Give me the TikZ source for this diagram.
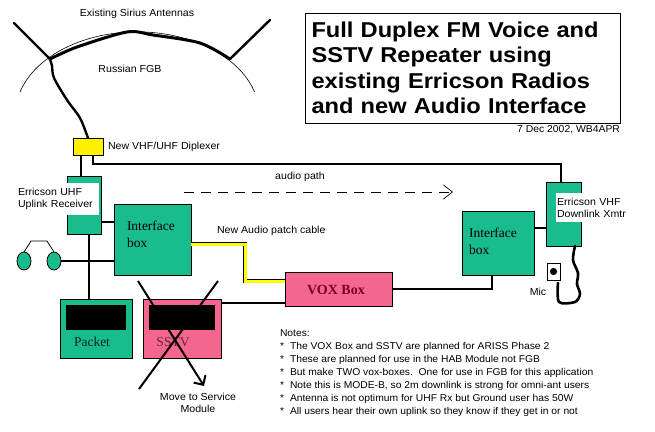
\documentclass[tikz,border=0pt]{standalone}
\usepackage{fontspec}
\setmainfont{Liberation Sans}
\newfontfamily\tms{Liberation Serif}
\newfontfamily\titlefont[FakeStretch=1.10]{Liberation Sans}
\newfontfamily\lblfont[FakeStretch=1.04]{Liberation Sans}
\usetikzlibrary{shapes.geometric,arrows.meta,calc}
\definecolor{boxgreen}{HTML}{19BC8C}
\definecolor{boxpink}{HTML}{F5668F}
\definecolor{voxred}{HTML}{7A0020}
\definecolor{cableyellow}{HTML}{FFFF00}
\begin{document}
\begin{tikzpicture}[x=1pt,y=-1pt,
  every node/.style={inner sep=0pt,outer sep=0pt},
  box/.style={draw=black,line width=0.8pt,inner sep=0pt},
  gbox/.style={box,fill=boxgreen},
  pbox/.style={box,fill=boxpink},
  conn/.style={line width=1.3pt},
  thickw/.style={line width=2.4pt,line cap=round,line join=round},
  lbl/.style={font=\lblfont\fontsize{10.2}{12}\selectfont},
  serif/.style={font=\tms\fontsize{13.5}{17}\selectfont},
  whitelbl/.style={fill=white,lbl,align=left,inner sep=1pt},
  cable/.style={line width=0.9pt,double=cableyellow,double distance=3pt}
]
\useasboundingbox[fill=white] (0,0) rectangle (655,431);

% ---- antennas ----
\draw[line width=0.6pt] (20,92) arc[start angle=164,end angle=16,x radius=122pt,y radius=83pt];
\draw[thickw,line width=3pt] plot[smooth] coordinates {(50,59) (77,47) (127,32) (153,35) (200,43) (230,59)};
\draw[thickw] (14,23) -- (50,59);
\draw[thickw] (230,59) -- (270,20);
\node[lbl] (ant) at (137,14) {Existing Sirius Antennas};
\node[lbl] (fgb) at (130,69) {Russian FGB};

% ---- boxes ----
\node[box,fill=yellow,minimum width=30pt,minimum height=17pt] (dip) at (88,146.5) {};
\node[lbl,anchor=west] (diptxt) at (108,147) {New VHF/UHF Diplexer};
\draw[thickw] plot[smooth] coordinates {(50,59) (52,66) (54,78) (67,100) (80,118) (88,138)};

\node[gbox,minimum width=34pt,minimum height=58pt] (uhf) at (84,205) {};
\node[whitelbl,text width=80pt,minimum height=32pt] (uhflbl) at (58,199) {Erricson UHF\\Uplink Receiver};

\node[gbox,minimum width=77pt,minimum height=71pt] (ifL) at (152.5,239.5) {};
\node[serif,align=left,anchor=north west] (ifLtxt) at (127,221) {Interface\\box};

\node[gbox,minimum width=72pt,minimum height=64pt] (ifR) at (498,243) {};
\node[serif,align=left,anchor=north west] (ifRtxt) at (469,228) {Interface\\box};

\node[gbox,minimum width=35pt,minimum height=64pt] (vhf) at (563.5,214) {};
\node[whitelbl,text width=70pt,minimum height=29pt] (vhflbl) at (592,207.5) {Erricson VHF\\Downlink Xmtr};

\node[pbox,minimum width=107pt,minimum height=34pt] (vox) at (338.5,289) {};
\node[font=\tms\bfseries\fontsize{14}{16}\selectfont,text=voxred] (voxtxt) at (336,290) {VOX Box};

\node[gbox,minimum width=72pt,minimum height=59pt] (packet) at (96,328.5) {};
\node[fill=black,minimum width=60pt,minimum height=25pt] (pscreen) at (96,317.5) {};
\node[serif,text=black!80!boxgreen] (ptxt) at (92,342) {Packet};

\node[pbox,minimum width=78pt,minimum height=59pt] (sstv) at (182,328.5) {};
\node[fill=black,minimum width=66pt,minimum height=25pt] (sscreen) at (182,317.5) {};
\node[serif,text=black!60!boxpink] (stxt) at (173,342) {SSTV};

% headphones
\node[ellipse,draw,line width=0.8pt,fill=boxgreen,minimum width=14pt,minimum height=18pt] (hpL) at (24,261) {};
\node[ellipse,draw,line width=0.8pt,fill=boxgreen,minimum width=14pt,minimum height=18pt] (hpR) at (54,261) {};
\coordinate (hb1) at (31,241);
\coordinate (hb2) at (47,241);
\draw[line width=0.8pt] (hpL.north) -- (hb1) -- (hb2) -- (hpR.north);

% mic
\node[box,fill=white,minimum width=13pt,minimum height=17pt] (mic) at (553.5,271.5) {};
\fill (mic.center) circle[radius=3.6pt];
\node[lbl] (mictxt) at (538,292) {Mic};

% ---- connectors ----
\coordinate (ty) at (0,164);
\draw[conn] ([xshift=-7pt]dip.south) -- ([xshift=-7pt]dip.south |- uhf.north);
\draw[conn,line width=1.8pt] ([xshift=5pt]dip.south) -- ([xshift=5pt]dip.south |- ty) -| ([xshift=-2.5pt]vhf.north);

\coordinate (y222) at (0,222);
\draw[conn] (uhf.east |- y222) -- (ifL.west |- y222);
\draw[conn] (hpR.east) -- (hpR.east -| ifL.west);
\draw[conn] ([xshift=5pt]uhf.south) -- ([xshift=5pt]uhf.south |- packet.north);

\coordinate (c1) at (245,244);
\coordinate (c2) at (245,281);
\draw[cable] (ifL.east |- c1) -- (c1) -- (c2) -- (c2 -| vox.west);
\node[lbl,anchor=west] (patch) at (217,231) {New Audio patch cable};

\coordinate (y303) at (0,303);
\draw[conn] (sstv.east |- y303) -- (y303 -| vox.west);
\draw[conn] (vox.east) -| ([xshift=-6pt]ifR.south);
\coordinate (y228) at (0,228);
\draw[conn] (ifR.east |- y228) -- (y228 -| vhf.west);

% audio path
\coordinate (ap1) at (184,192);
\coordinate (ap2) at (453,192);
\draw[line width=0.7pt,dash pattern=on 10pt off 7pt,-{Straight Barb[length=9pt,width=14pt,line width=0.7pt]}] (ap1) -- (ap2);
\node[lbl] (aptxt) at (300,177) {audio path};

% coiled cord
\draw[thickw,line width=2.6pt] plot[smooth] coordinates {([xshift=11.5pt]vhf.south) (573,260) (578,273) (577,284) (580,294) (575,302) (559,302) (558,283)};

% big X
\coordinate (x1) at (218,281);
\coordinate (x2) at (139,389);
\coordinate (x3) at (138,281);
\coordinate (x4) at (204,386);
\draw[line width=2pt] (x1) -- (x2);
\draw[line width=2pt,-{Straight Barb[length=7pt,width=14pt,line width=2pt]}] (x3) -- (x4);
\node[lbl,align=center] (move) at (198,403) {Move to Service\\Module};

% title
\node[box,line width=0.9pt,minimum width=315pt,minimum height=110pt,text width=302pt,align=left,
      font=\titlefont\bfseries\fontsize{21.5}{25.5}\selectfont] (title) at (462.5,68)
  {Full Duplex FM Voice and\\SSTV Repeater using\\existing Erricson Radios\\and new Audio Interface};
\node[font=\lblfont\fontsize{10}{12}\selectfont,anchor=east] (date) at (620,130) {7 Dec 2002, WB4APR};

% notes
\node[lbl,align=left,anchor=north west,font=\lblfont\fontsize{9.9}{13}\selectfont] (notes) at (280,330)
  {Notes:\\
   \makebox[10pt][l]{*}The VOX Box and SSTV are planned for ARISS Phase 2\\
   \makebox[10pt][l]{*}These are planned for use in the HAB Module not FGB\\
   \makebox[10pt][l]{*}But make TWO vox-boxes.\ \ One for use in FGB for this application\\
   \makebox[10pt][l]{*}Note this is MODE-B, so 2m downlink is strong for omni-ant users\\
   \makebox[10pt][l]{*}Antenna is not optimum for UHF Rx but Ground user has 50W\\
   \makebox[10pt][l]{*}All users hear their own uplink so they know if they get in or not};
\end{tikzpicture}
\end{document}
